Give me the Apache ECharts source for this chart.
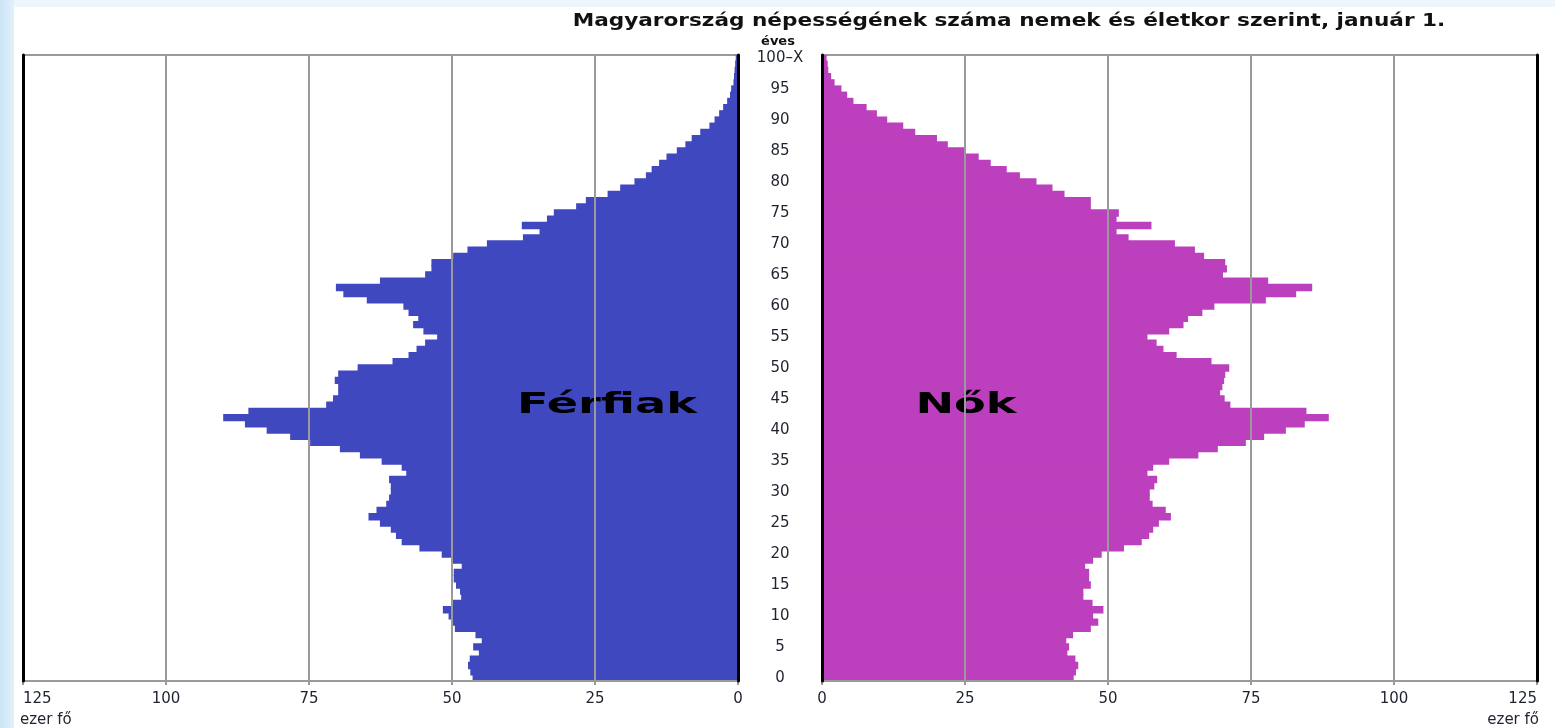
<!DOCTYPE html>
<html>
<head>
<meta charset="utf-8">
<title>Magyarország népessége</title>
<script src="https://cdn.jsdelivr.net/npm/echarts@6/dist/echarts.min.js"></script>
<style>
  html, body { margin: 0; padding: 0; }
  body {
    width: 1555px; height: 728px; overflow: hidden;
    background: linear-gradient(to right, #cce5f7 0, #e3f0fb 14px, #eef6fd 14px);
  }
  #chart { width: 1555px; height: 728px; }
</style>
</head>
<body>
<div id="chart"></div>
<script>
// életkor kategóriák (0 ... 100-X)
var ages = ['0','1','2','3','4','5','6','7','8','9',
  '10','11','12','13','14','15','16','17','18','19',
  '20','21','22','23','24','25','26','27','28','29',
  '30','31','32','33','34','35','36','37','38','39',
  '40','41','42','43','44','45','46','47','48','49',
  '50','51','52','53','54','55','56','57','58','59',
  '60','61','62','63','64','65','66','67','68','69',
  '70','71','72','73','74','75','76','77','78','79',
  '80','81','82','83','84','85','86','87','88','89',
  '90','91','92','93','94','95','96','97','98','99',
  '100–X']

// férfiak, ezer fő
var males = [46.4, 46.8, 47.2, 46.9, 45.3, 46.3, 44.8, 45.9, 49.5, 50.0,
  50.6, 51.6, 50.0, 48.4, 48.6, 49.3, 49.7, 49.7, 48.3, 50.0,
  51.8, 55.7, 58.8, 59.8, 60.7, 62.6, 64.6, 63.2, 61.5, 61.0,
  60.7, 60.7, 61.0, 58.0, 58.8, 62.3, 66.1, 69.6, 74.8, 78.3,
  82.4, 86.2, 90.0, 85.6, 72.0, 70.8, 69.9, 69.9, 70.5, 69.9,
  66.5, 60.4, 57.6, 56.2, 54.7, 52.6, 55.0, 56.8, 55.9, 57.6,
  58.5, 64.9, 69.0, 70.3, 62.6, 54.7, 53.6, 53.6, 49.8, 47.3,
  43.9, 37.6, 34.7, 37.8, 33.4, 32.2, 28.3, 26.6, 22.8, 20.6,
  18.1, 16.1, 15.1, 13.8, 12.5, 10.7, 9.2, 8.1, 6.6, 5.0,
  4.1, 3.3, 2.6, 1.9, 1.4, 1.2, 0.8, 0.7, 0.6, 0.5,
  0.4]

// nők, ezer fő
var females = [44.0, 44.4, 44.8, 44.3, 42.9, 43.2, 42.7, 43.9, 47.0, 48.3,
  47.4, 49.2, 47.3, 45.7, 45.7, 47.0, 46.7, 46.7, 46.0, 47.4,
  48.9, 52.8, 55.9, 57.2, 57.9, 58.9, 61.0, 60.1, 57.8, 57.3,
  57.3, 58.1, 58.6, 56.9, 57.9, 60.7, 65.8, 69.2, 74.1, 77.3,
  81.1, 84.4, 88.6, 84.7, 71.4, 70.4, 69.6, 70.0, 70.3, 70.5,
  71.2, 68.1, 62.0, 59.7, 58.5, 56.9, 60.7, 63.2, 64.0, 66.5,
  68.6, 77.6, 82.9, 85.7, 78.0, 70.1, 70.8, 70.5, 66.8, 65.2,
  61.7, 53.6, 51.5, 57.6, 51.5, 51.9, 47.0, 47.0, 42.4, 40.3,
  37.5, 34.6, 32.3, 29.5, 27.4, 24.9, 22.0, 20.1, 16.3, 14.2,
  11.4, 9.6, 7.8, 5.5, 4.4, 3.4, 2.2, 1.6, 1.1, 1.0,
  0.8]

var xMax = 125
var xStep = 25

var font = 'DejaVu Sans'
var gridColor = '#9a9a9a'
var labelColor = '#1f2330'
var maleColor = '#4048bf'
var femaleColor = '#bc40bd'

function valueAxis(grid, inverse, maxAlign) {
  return {
    type: 'value', gridIndex: grid, min: 0, max: xMax, interval: xStep,
    inverse: inverse, z: 5,
    axisLine: { show: true, onZero: false, lineStyle: { color: gridColor, width: 2 } },
    axisTick: { show: true, length: 4, lineStyle: { color: gridColor, width: 2 } },
    splitLine: { show: true, lineStyle: { color: gridColor, width: 2 } },
    axisLabel: {
      color: labelColor, fontFamily: font, fontSize: 15, margin: 11,
      alignMaxLabel: maxAlign
    }
  }
}

function ageAxis(grid, pos, labels) {
  return {
    type: 'category', gridIndex: grid, data: ages, position: pos, z: 6,
    axisLine: { show: true, onZero: false, lineStyle: { color: '#000', width: 3 } },
    axisTick: { show: false },
    axisLabel: labels ? {
      show: true, color: labelColor, fontFamily: font, fontSize: 15,
      align: 'center', margin: 42,
      interval: function (i) { return i % 5 === 0 }
    } : { show: false },
    splitLine: { show: false }
  }
}

var chart = echarts.init(document.getElementById('chart'))
var option = {
  animation: false,
  grid: [
    { left: 23, top: 55, width: 715, height: 626, show: true, borderColor: gridColor, borderWidth: 2 },
    { left: 822, top: 55, width: 715, height: 626, show: true, borderColor: gridColor, borderWidth: 2 }
  ],
  xAxis: [
    valueAxis(0, true, 'left'),
    valueAxis(1, false, 'right')
  ],
  yAxis: [
    ageAxis(0, 'right', true),
    ageAxis(0, 'left', false),
    ageAxis(1, 'left', false),
    ageAxis(1, 'right', false)
  ],
  series: [
    {
      name: 'Férfiak', type: 'bar', xAxisIndex: 0, yAxisIndex: 0,
      data: males, barWidth: 7.4,
      itemStyle: { color: maleColor }
    },
    {
      name: 'Nők', type: 'bar', xAxisIndex: 1, yAxisIndex: 2,
      data: females, barWidth: 7.4,
      itemStyle: { color: femaleColor }
    }
  ],
  graphic: [
    { type: 'rect', z: -100, shape: { x: 14, y: 7, width: 1541, height: 721 }, style: { fill: '#fff' } },
    { type: 'text', x: 1009, y: 21, z: 10, scaleX: 1.2,
      style: { text: 'Magyarország népességének száma nemek és életkor szerint, január 1.',
        fontFamily: font, fontSize: 18, fontWeight: 'bold', fill: '#111', textAlign: 'center', textVerticalAlign: 'middle' } },
    { type: 'text', x: 778, y: 42, z: 10,
      style: { text: 'éves', fontFamily: font, fontSize: 13, fontWeight: 'bold', fill: '#111', textAlign: 'center', textVerticalAlign: 'middle' } },
    { type: 'text', x: 607, y: 406, z: 4, scaleX: 1.65,
      style: { text: 'Férfiak', fontFamily: font, fontSize: 28, fontWeight: 'bold', fill: '#000', textAlign: 'center', textVerticalAlign: 'middle' } },
    { type: 'text', x: 966, y: 406, z: 4, scaleX: 1.65,
      style: { text: 'Nők', fontFamily: font, fontSize: 28, fontWeight: 'bold', fill: '#000', textAlign: 'center', textVerticalAlign: 'middle' } },
    { type: 'text', x: 20, y: 720, z: 10,
      style: { text: 'ezer fő', fontFamily: font, fontSize: 15, fill: labelColor, textAlign: 'left', textVerticalAlign: 'middle' } },
    { type: 'text', x: 1539, y: 720, z: 10,
      style: { text: 'ezer fő', fontFamily: font, fontSize: 15, fill: labelColor, textAlign: 'right', textVerticalAlign: 'middle' } }
  ]
}
chart.setOption(option)
</script>
</body>
</html>
